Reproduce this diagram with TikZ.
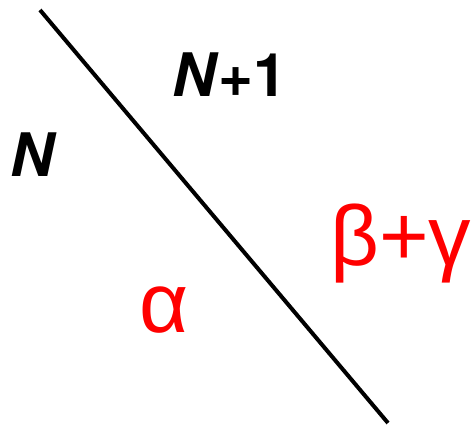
\documentclass[tikz,border=0pt]{standalone}
\usepackage{fontspec}
\setmainfont{TeX Gyre Heros}
\newfontfamily\greekfont{Liberation Sans}
\begin{document}
\begin{tikzpicture}[x=1pt,y=-1pt,
  blk/.style={inner sep=0pt,anchor=base west,font=\fontsize{60}{60}\selectfont\bfseries},
  redlbl/.style={inner sep=0pt,anchor=base west,text=red,font=\fontsize{85}{85}\greekfont}]
\useasboundingbox (0,0) rectangle (472,427);
\coordinate (top) at (40,10);
\coordinate (bot) at (388,423);
\draw[line width=4pt] (top) -- (bot);
\node[blk] (n1) at (172,97) {\textit{N}+1};
\node[blk] (n) at (10,177) {\textit{N}};
\node[redlbl] (bg) at (330,266) {β+γ};
\node[redlbl] (a) at (139,333) {α};
\end{tikzpicture}
\end{document}
